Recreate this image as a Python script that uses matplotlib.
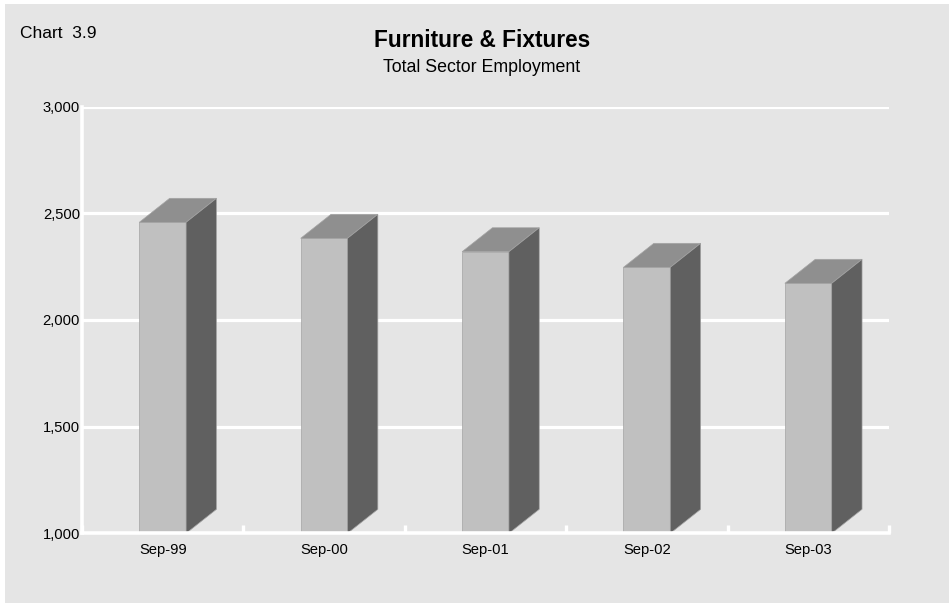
"""
Furniture & Fixtures - Total Sector Employment (3D style columns)
"""

import matplotlib.pyplot as plt
from matplotlib.patches import Polygon, Rectangle

plt.rcParams["font.family"] = ["Liberation Sans", "DejaVu Sans"]

# Data
months = ["Sep-99", "Sep-00", "Sep-01", "Sep-02", "Sep-03"]
employment = [2458, 2383, 2320, 2247, 2172]
y_ticks = [1000, 1500, 2000, 2500, 3000]

# Styling
bg_colour = "#e5e5e5"
front_colour = "#c0c0c0"
top_colour = "#8f8f8f"
side_colour = "#606060"
edge_colour = "#a4a4a4"

W, H = 949, 605
fig = plt.figure(figsize=(W / 100, H / 100), dpi=100)
fig.patch.set_facecolor("white")

# grey panel behind everything (thin white strip on top/left/bottom)
fig.patches.append(Rectangle((5 / W, 2 / H), 944 / W, 599 / H,
                             transform=fig.transFigure, facecolor=bg_colour,
                             edgecolor="none", zorder=-5))

ax = fig.add_axes([82 / W, 1 - 533.3 / H, 807 / W, 426.6 / H])
ax.set_facecolor("none")
ax.set_xlim(-0.5, len(months) - 0.5)
ax.set_ylim(y_ticks[0], y_ticks[-1])

# white gridlines
for val in y_ticks[1:]:
    ax.axhline(val, color="white", lw=2.3, zorder=1)

# bar geometry (category units / value units)
bar_w = 0.29
depth_x = 0.188
depth_y = 112.5
base = y_ticks[0]

for i, val in enumerate(employment):
    x0 = i - bar_w / 2
    x1 = i + bar_w / 2
    front = Polygon([(x0, base), (x0, val), (x1, val), (x1, base)],
                    closed=True, facecolor=front_colour, edgecolor=edge_colour,
                    lw=0.5, zorder=3)
    top = Polygon([(x0, val), (x0 + depth_x, val + depth_y),
                   (x1 + depth_x, val + depth_y), (x1, val)],
                  closed=True, facecolor=top_colour, edgecolor=edge_colour,
                  lw=0.5, zorder=3)
    side = Polygon([(x1, base), (x1, val), (x1 + depth_x, val + depth_y),
                    (x1 + depth_x, base + depth_y)],
                   closed=True, facecolor=side_colour, edgecolor=edge_colour,
                   lw=0.5, zorder=3)
    for p in (front, top, side):
        ax.add_patch(p)

# axes lines
for s in ["top", "right"]:
    ax.spines[s].set_visible(False)
for s in ["left", "bottom"]:
    ax.spines[s].set_color("white")
    ax.spines[s].set_linewidth(2.6)
    ax.spines[s].set_zorder(4)

ax.set_yticks(y_ticks)
ax.set_yticklabels([f"{v:,}" for v in y_ticks])
ax.tick_params(axis="y", length=0, pad=1.5, labelsize=10.6)

ax.set_xticks(range(len(months)))
ax.set_xticklabels(months)
ax.tick_params(axis="x", which="major", length=0, pad=7, labelsize=10.6)
ax.set_xticks([i - 0.5 for i in range(len(months) + 1)], minor=True)
ax.tick_params(axis="x", which="minor", direction="in", length=6,
               width=2.4, color="white")

# titles
fig.text(20 / W, 1 - 37.7 / H, "Chart  3.9", fontsize=12.5, va="baseline")
fig.text(482 / W, 1 - 47.3 / H, "Furniture & Fixtures", fontsize=16.3,
         fontweight="bold", ha="center", va="baseline")
fig.text(482 / W, 1 - 72.3 / H, "Total Sector Employment", fontsize=12.8,
         ha="center", va="baseline")

plt.savefig("out.png", dpi=100, facecolor=fig.get_facecolor())
